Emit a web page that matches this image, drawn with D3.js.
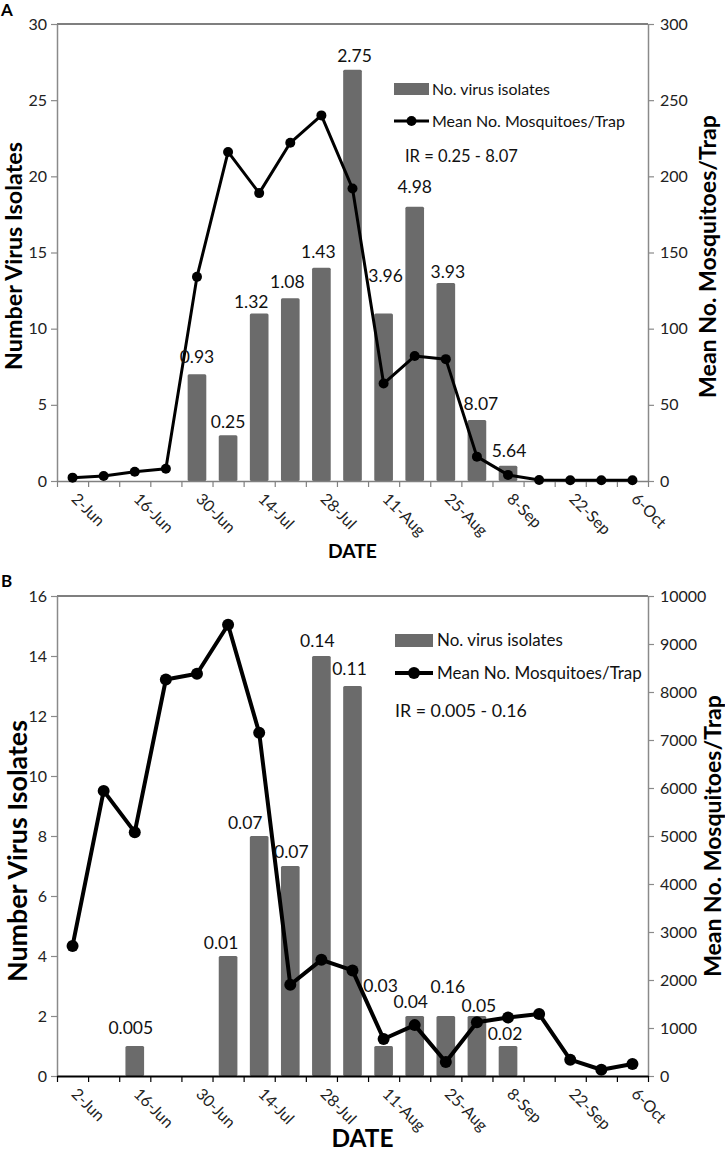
<!DOCTYPE html>
<html><head><meta charset="utf-8">
<script src="https://cdn.jsdelivr.net/npm/d3@7"></script>
<style>
html,body{margin:0;padding:0;background:#fff;}
svg{display:block;font-family:Lato,"Open Sans",sans-serif;}
</style></head>
<body><svg id="chart" width="725" height="1154"></svg>
<script>
// ---------- DATA ----------
const categories = ["2-Jun","9-Jun","16-Jun","23-Jun","30-Jun","7-Jul","14-Jul","21-Jul","28-Jul","4-Aug","11-Aug","18-Aug","25-Aug","1-Sep","8-Sep","15-Sep","22-Sep","29-Sep","6-Oct"];
const tickLabels = ["2-Jun","16-Jun","30-Jun","14-Jul","28-Jul","11-Aug","25-Aug","8-Sep","22-Sep","6-Oct"];

// Panel A
const isolatesA = [0,0,0,0,7,3,11,12,14,27,11,18,13,4,1,0,0,0,0];
const irLabelsA = [null,null,null,null,"0.93","0.25","1.32","1.08","1.43","2.75","3.96","4.98","3.93","8.07","5.64",null,null,null,null];
const mosquitoesA = [2.2,3.3,6.1,8.1,134,216,189,222,240,192,64,82,80,16,4,0.7,0.5,0.5,0.5];
const leftTicksA = [0,5,10,15,20,25,30];
const rightTicksA = [0,50,100,150,200,250,300];
const irRangeA = "IR = 0.25 - 8.07";

// Panel B
const isolatesB = [0,0,1,0,0,4,8,7,14,13,1,2,2,2,1,0,0,0,0];
const irLabelsB = [null,null,"0.005",null,null,"0.01","0.07","0.07","0.14","0.11","0.03","0.04","0.16","0.05","0.02",null,null,null,null];
const mosquitoesB = [2710,5940,5080,8260,8380,9400,7150,1900,2420,2200,770,1060,290,1120,1220,1290,340,130,250];
const leftTicksB = [0,2,4,6,8,10,12,14,16];
const rightTicksB = [0,1000,2000,3000,4000,5000,6000,7000,8000,9000,10000];
const irRangeB = "IR = 0.005 - 0.16";

const barLegend = "No. virus isolates";
const lineLegend = "Mean No. Mosquitoes/Trap";
const leftTitle = "Number Virus Isolates";
const rightTitle = "Mean No. Mosquitoes/Trap";
const xTitle = "DATE";

// ---------- LAYOUT (label nudges in px, not data) ----------
const labelDxA   = [0,0,0,0,0,0,-8,-3,-3,2,2,0,2,4,1,0,0,0,0];
const labelLiftA = [0,0,0,0,11,7,5,10,10,8,31,14,5,10,9,0,0,0,0];
const labelDxB   = [0,0,-4,0,0,-7,-14,1,-4,-3,-3,-4,2,2,-3,0,0,0,0];
const labelLiftB = [0,0,12,0,0,7,7,8,9,11,54,8,23,4,6,0,0,0,0];

const svg = d3.select("#chart");

function fit(sel, target){
  const n = sel.node();
  const fs = parseFloat(sel.style("font-size"));
  const L = n.getComputedTextLength();
  if (L > 0) sel.style("font-size", (fs*target/L) + "px");
  return sel;
}

function panel(o){
  const g = svg.append("g");
  const x = d3.scaleBand().domain(categories).range([o.x0,o.x1]);
  const bw = x.bandwidth();
  const xb = d3.scaleLinear().domain([0,categories.length]).range([o.x0,o.x1]);
  const yL = d3.scaleLinear().domain([0,d3.max(o.leftTicks)]).range([o.y1,o.y0]);
  const yR = d3.scaleLinear().domain([0,d3.max(o.rightTicks)]).range([o.y1,o.y0]);

  // bars
  const barW = bw*0.6;
  g.append("g").selectAll("rect").data(o.bars.map((v,i)=>({v,i})).filter(d=>d.v>0))
    .join("rect")
    .attr("x", d=>x(categories[d.i]) + (bw-barW)/2)
    .attr("y", d=>yL(d.v))
    .attr("width", barW)
    .attr("height", d=>yL(0)-yL(d.v))
    .attr("rx",1.5)
    .attr("fill","#6b6b6b");

  // top border
  g.append("line").attr("x1",o.x0).attr("x2",o.x1).attr("y1",o.y0).attr("y2",o.y0)
    .attr("stroke","#555").attr("stroke-width",1.5);

  // left axis
  const la = g.append("g").attr("transform",`translate(${o.x0},0)`)
    .call(d3.axisLeft(yL).tickValues(o.leftTicks).tickFormat(d3.format("d")).tickSize(6).tickPadding(4).tickSizeOuter(0));
  la.select(".domain").attr("stroke","#8a8a8a").attr("stroke-width",1.5);
  la.selectAll(".tick line").attr("stroke","#8a8a8a").attr("stroke-width",1.2);
  la.selectAll(".tick text").style("font-size","16px").attr("fill","#222").style("font-family","Lato");

  // right axis
  const ra = g.append("g").attr("transform",`translate(${o.x1},0)`)
    .call(d3.axisRight(yR).tickValues(o.rightTicks).tickFormat(d3.format("d")).tickSize(6).tickPadding(6).tickSizeOuter(0));
  ra.select(".domain").attr("stroke","#8a8a8a").attr("stroke-width",1.5);
  ra.selectAll(".tick line").attr("stroke","#8a8a8a").attr("stroke-width",1.2);
  ra.selectAll(".tick text").style("font-size","16px").attr("fill","#222").style("font-family","Lato");

  // bottom axis (category boundary ticks)
  const ba = g.append("g").attr("transform",`translate(0,${o.y1})`)
    .call(d3.axisBottom(xb).tickValues(d3.range(0,categories.length+1)).tickFormat("").tickSize(6).tickSizeOuter(0));
  ba.select(".domain").attr("stroke",o.baseColor).attr("stroke-width",o.baseWidth);
  ba.selectAll(".tick line").attr("stroke",o.baseColor).attr("stroke-width",1.2);

  // x tick labels (rotated)
  g.append("g").selectAll("text").data(tickLabels).join("text")
    .attr("transform", d=>`translate(${x(d)+bw/2-2},${o.y1+19}) rotate(45)`)
    .attr("text-anchor","start")
    .style("font-size","16px").attr("fill","#222")
    .text(d=>d);

  // line
  const line = d3.line().x((d,i)=>x(categories[i])+bw/2).y(d=>yR(d));
  g.append("path").datum(o.line).attr("d",line).attr("fill","none")
    .attr("stroke","#000").attr("stroke-width",o.lineW).attr("stroke-linejoin","round");
  g.append("g").selectAll("circle").data(o.line).join("circle")
    .attr("cx",(d,i)=>x(categories[i])+bw/2).attr("cy",d=>yR(d)).attr("r",o.dotR).attr("fill","#000");

  // bar labels
  g.append("g").selectAll("text").data(o.labels.map((t,i)=>({t,i})).filter(d=>d.t))
    .join("text")
    .attr("x", d=>x(categories[d.i])+bw/2+o.labelDx[d.i])
    .attr("y", d=>yL(o.bars[d.i])-o.labelLift[d.i])
    .attr("text-anchor","middle")
    .style("font-size","17.5px").attr("fill","#111")
    .text(d=>d.t);

  // legend
  const L = o.legend;
  g.append("rect").attr("x",L.rx).attr("y",L.ry).attr("width",L.rw).attr("height",L.rh).attr("fill","#6b6b6b");
  fit(g.append("text").attr("x",L.tx).attr("y",L.ty1).style("font-size","16px").attr("fill","#111").text(barLegend), L.w1);
  g.append("line").attr("x1",L.rx).attr("x2",L.rx+L.rw).attr("y1",L.ly).attr("y2",L.ly)
    .attr("stroke","#000").attr("stroke-width",o.lineW);
  g.append("circle").attr("cx",L.rx+L.rw/2).attr("cy",L.ly).attr("r",o.dotR).attr("fill","#000");
  fit(g.append("text").attr("x",L.tx).attr("y",L.ty2).style("font-size","16px").attr("fill","#111").text(lineLegend), L.w2);
  fit(g.append("text").attr("x",L.irx).attr("y",L.iry).style("font-size","16px").attr("fill","#111").text(o.irText), L.w3);

  // titles
  const T = o.titles;
  fit(g.append("text").attr("transform",`translate(${T.lx},${T.lcy}) rotate(-90)`).attr("text-anchor","middle")
    .style("font-size","20px").style("font-weight","bold").text(leftTitle), T.lw);
  fit(g.append("text").attr("transform",`translate(${T.rx},${T.rcy}) rotate(-90)`).attr("text-anchor","middle")
    .style("font-size","20px").style("font-weight","bold").text(rightTitle), T.rw);
  fit(g.append("text").attr("x",T.dx).attr("y",T.dy).attr("text-anchor","middle")
    .style("font-size","20px").style("font-weight","bold").text(xTitle), T.dw);
  g.append("text").attr("x",1).attr("y",T.py).style("font-size","17px").style("font-weight","bold").text(T.letter);
}

panel({
  x0:57, x1:648, y0:24, y1:481,
  leftTicks:leftTicksA, rightTicks:rightTicksA,
  bars:isolatesA, line:mosquitoesA, labels:irLabelsA, labelDx:labelDxA, labelLift:labelLiftA,
  baseColor:"#808080", baseWidth:1.5, lineW:3, dotR:5, irText:irRangeA,
  legend:{rx:394, ry:83, rw:35, rh:12, tx:432, ty1:95, ty2:127, ly:121, w1:118, w2:193, irx:405, iry:162, w3:113},
  titles:{lx:22, lcy:256, lw:228, rx:716, rcy:256.5, rw:283, dx:352.5, dy:558, dw:49, py:16, letter:"A"}
});

panel({
  x0:57, x1:648, y0:596, y1:1076,
  leftTicks:leftTicksB, rightTicks:rightTicksB,
  bars:isolatesB, line:mosquitoesB, labels:irLabelsB, labelDx:labelDxB, labelLift:labelLiftB,
  baseColor:"#000", baseWidth:2, lineW:4, dotR:6, irText:irRangeB,
  legend:{rx:395, ry:634, rw:38, rh:13, tx:437, ty1:646, ty2:679, ly:673, w1:126, w2:205, irx:395, iry:717, w3:132},
  titles:{lx:27, lcy:851, lw:262, rx:721, rcy:836, rw:282, dx:362.5, dy:1147, dw:62, py:587, letter:"B"}
});
</script>
</body></html>
